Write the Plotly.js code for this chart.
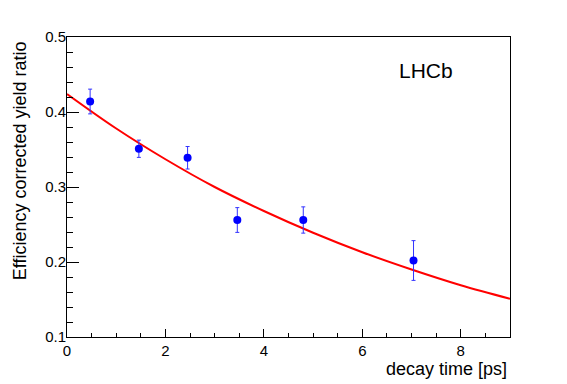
<!DOCTYPE html>
<html>
<head>
<meta charset="utf-8">
<script src="https://cdn.plot.ly/plotly-3.0.1.min.js"></script>
<style>
  html, body { margin: 0; padding: 0; background: #fff; }
  #chart { width: 567px; height: 384px; }
</style>
</head>
<body>
<div id="chart"></div>
<script>
// measured points (decay time [ps], yield ratio, error)
const decayTime = [0.47, 1.46, 2.45, 3.46, 4.80, 7.04];
const yieldRatio = [0.414, 0.351, 0.339, 0.256, 0.256, 0.202];
const yieldErr = [0.0165, 0.0115, 0.015, 0.0165, 0.0175, 0.0265];

// fit curve
const fitTime = [0, 1, 2, 3, 4, 5, 6, 7, 8, 9];
const fitRatio = [0.424, 0.378, 0.337, 0.300, 0.268, 0.239, 0.213, 0.190, 0.169, 0.151];

const FONT = 'Liberation Sans, Arial, Helvetica, sans-serif';

const traces = [
  {
    x: fitTime, y: fitRatio,
    mode: 'lines', type: 'scatter',
    line: { color: '#ff0000', width: 2, shape: 'spline' },
    hoverinfo: 'skip',
  },
  {
    x: decayTime, y: yieldRatio,
    mode: 'markers', type: 'scatter',
    marker: { color: '#0000ff', size: 8, symbol: 'circle' },
    error_y: { type: 'data', array: yieldErr, color: '#3333ff', thickness: 1, width: 2 },
  },
];

const axisBase = {
  showline: true, mirror: true, linecolor: '#000', linewidth: 1,
  showgrid: false, zeroline: false,
  ticks: 'inside', tickcolor: '#000', tickwidth: 1,
  tickfont: { family: FONT, size: 15, color: '#000' },
};

const layout = {
  width: 567, height: 384,
  margin: { l: 67, r: 57, t: 37, b: 47 },
  paper_bgcolor: '#fff', plot_bgcolor: '#fff',
  showlegend: false,
  font: { family: FONT, color: '#000' },
  xaxis: {
    ...axisBase,
    range: [0, 9], dtick: 2, tick0: 0, ticklen: 8,
    minor: { dtick: 0.5, ticklen: 4, ticks: 'inside', tickcolor: '#000' },
  },
  yaxis: {
    ...axisBase,
    range: [0.1, 0.5], dtick: 0.1, tick0: 0.1, ticklen: 12, tickformat: '.1f',
    ticklabelstandoff: -3,
    minor: { dtick: 0.02, ticklen: 6, ticks: 'inside', tickcolor: '#000' },
  },
  annotations: [
    { text: 'Efficiency corrected yield ratio', xref: 'paper', yref: 'paper',
      x: -0.106, y: 0.988, xanchor: 'center', yanchor: 'top', textangle: -90,
      showarrow: false, borderpad: 0, font: { family: FONT, size: 18, color: '#000' } },
    { text: 'decay time [ps]', xref: 'paper', yref: 'paper',
      x: 0.996, y: -0.105, xanchor: 'right', yanchor: 'middle',
      showarrow: false, borderpad: 0, font: { family: FONT, size: 18, color: '#000' } },
    { text: 'LHCb', xref: 'paper', yref: 'paper',
      x: 0.744, y: 0.888, xanchor: 'left', yanchor: 'middle',
      showarrow: false, font: { family: FONT, size: 21, color: '#000' } },
  ],
};

Plotly.newPlot('chart', traces, layout, { displayModeBar: false, staticPlot: true });
</script>
</body>
</html>
